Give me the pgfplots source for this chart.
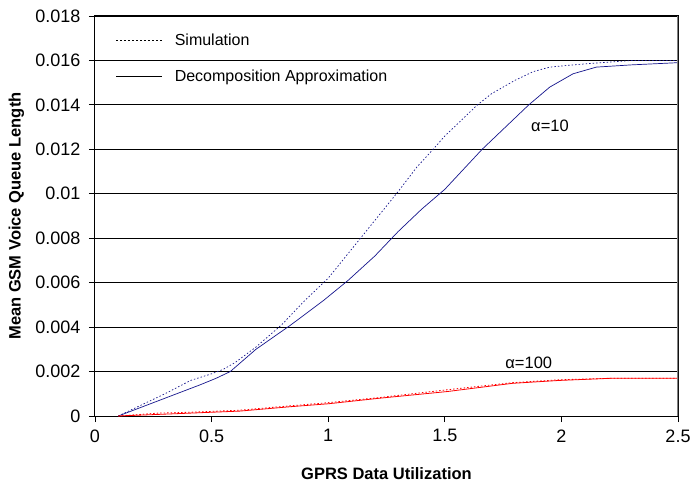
\documentclass[border=0pt]{standalone}
\usepackage{pgfplots}
\pgfplotsset{compat=1.18}
\usepackage{fontspec}
\setmainfont{Liberation Sans}
\definecolor{navy}{RGB}{20,20,140}
\begin{document}
\begin{tikzpicture}
\useasboundingbox (-95pt,-71pt) rectangle (597pt,416pt);
\begin{axis}[
  scale only axis,
  width=583pt, height=400pt,
  at={(0,0)}, anchor=south west,
  xmin=0, xmax=2.5, ymin=0, ymax=0.018,
  xtick={0,0.5,1,1.5,2,2.5},
  xticklabels={0,0.5,1,1.5,2,2.5},
  ytick={0,0.002,0.004,0.006,0.008,0.01,0.012,0.014,0.016,0.018},
  yticklabels={0,0.002,0.004,0.006,0.008,0.01,0.012,0.014,0.016,0.018},
  scaled ticks=false,
  tick pos=left, tick align=outside,
  major tick length=6pt,
  tick style={black, line width=0.8pt},
  ymajorgrids, grid style={black, line width=0.8pt},
  axis line style={black, line width=1pt},
  tick label style={font=\fontsize{18}{20}\selectfont},
  xticklabel style={yshift=-4pt},
  yticklabel style={xshift=-5pt},
  /pgf/number format/assume math mode=true,
  xlabel={GPRS Data Utilization},
  ylabel={Mean GSM Voice Queue Length},
  label style={font=\fontsize{16.5}{18}\selectfont\bfseries},
  xlabel style={at={(axis description cs:0.5,0)}, anchor=north, yshift=-51pt, inner sep=0pt},
  ylabel style={at={(axis description cs:-0.135,0.5)}, anchor=center},
  legend style={draw=none, fill=none, at={(axis cs:0.09,0.0173)}, anchor=north west,
    font=\fontsize{16}{18}\selectfont, row sep=19pt, column sep=10pt, inner sep=0pt},
  legend cell align=left,
  legend image code/.code={\draw[#1] (0pt,0pt) -- (46pt,0pt);},
]
\addplot[navy, line width=0.7pt, dash pattern=on 1.5pt off 2pt, forget plot] coordinates {
(0.1,0) (0.2,0.0005) (0.3,0.0010) (0.41,0.0016) (0.5,0.0019) (0.55,0.0021) (0.6,0.0024)
(0.69,0.0031) (0.8,0.0041) (0.9,0.0052) (1.0,0.0062) (1.1,0.0075) (1.2,0.0088) (1.3,0.0101)
(1.38,0.0112) (1.45,0.0120) (1.5,0.0126) (1.55,0.0131) (1.64,0.0140) (1.7,0.0145) (1.8,0.0151)
(1.88,0.0155) (1.95,0.0157) (2.05,0.0158) (2.17,0.0159) (2.3,0.0160) (2.5,0.0160)
};
\addplot[navy, line width=0.7pt, forget plot] coordinates {
(0.1,0) (0.2,0.0004) (0.3,0.0008) (0.45,0.0014) (0.52,0.0017) (0.58,0.0020) (0.69,0.0030)
(0.84,0.0041) (0.98,0.0052) (1.085,0.0061) (1.2,0.0072) (1.3,0.0083) (1.4,0.0093) (1.5,0.0102)
(1.58,0.0111) (1.66,0.0120) (1.75,0.0129) (1.86,0.0140) (1.95,0.0148) (2.05,0.0154)
(2.15,0.0157) (2.3,0.0158) (2.5,0.0159)
};
\addplot[red, line width=0.8pt, dash pattern=on 1.5pt off 2pt, forget plot] coordinates {
(0.1,0.0) (0.27,0.00013) (0.41,0.00017) (0.62,0.00026) (0.84,0.00046) (1.0,0.0006)
(1.22,0.00083) (1.51,0.00118) (1.79,0.0015) (1.99,0.00163) (2.22,0.0017) (2.5,0.0017)
};
\addplot[red, line width=0.8pt, forget plot] coordinates {
(0.1,0) (0.41,0.00013) (0.62,0.00022) (0.84,0.00042) (1.0,0.00055) (1.22,0.0008)
(1.51,0.0011) (1.79,0.00147) (1.99,0.0016) (2.22,0.0017) (2.5,0.0017)
};
\addlegendimage{black, line width=0.6pt, dash pattern=on 2pt off 2pt}
\addlegendentry{Simulation}
\addlegendimage{black, line width=0.6pt}
\addlegendentry{Decomposition Approximation}
\node[font=\fontsize{16.5}{18}\selectfont] at (axis cs:1.951,0.01305) {α=10};
\node[font=\fontsize{16.5}{18}\selectfont] at (axis cs:1.86,0.0024) {α=100};
\draw[gray, line width=1.2pt] (rel axis cs:1,0) -- (rel axis cs:1,1);
\end{axis}
\end{tikzpicture}
\end{document}
